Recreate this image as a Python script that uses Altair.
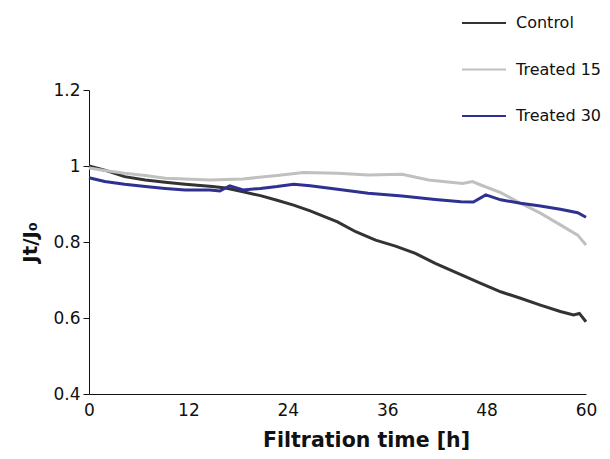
import altair as alt
import pandas as pd

series_names = ["Control", "Treated 15", "Treated 30"]
series_colors = ["#333333", "#c0c0c0", "#2e3192"]

control_t = [0, 1.9, 4.3, 6.8, 9.2, 11.6, 14.9, 16.5, 18.6, 20.7, 22.7, 24.7, 26.7, 30,
             32.2, 34.6, 37, 39.4, 41.8, 45.1, 47.3, 49.7, 52.1, 54.5, 56.9, 58.5, 59.2, 60]
control_v = [1.0, 0.989, 0.972, 0.963, 0.957, 0.952, 0.946, 0.942, 0.932, 0.922, 0.910, 0.897,
             0.882, 0.853, 0.827, 0.805, 0.789, 0.770, 0.744, 0.712, 0.691, 0.669, 0.652, 0.634,
             0.617, 0.608, 0.612, 0.590]

t15_t = [0, 1.9, 4.3, 6.8, 9.2, 11.6, 14.6, 18.6, 22.7, 25.9, 30, 33.7, 37.8, 41, 45.1, 46.3,
         47.3, 49.7, 52.1, 54.5, 56.9, 59, 60]
t15_v = [0.995, 0.988, 0.981, 0.975, 0.968, 0.966, 0.963, 0.966, 0.975, 0.983, 0.981, 0.976,
         0.978, 0.963, 0.954, 0.959, 0.950, 0.930, 0.902, 0.876, 0.845, 0.818, 0.792]

t30_t = [0, 1.9, 4.3, 6.8, 9.2, 11.6, 14.6, 15.8, 17, 18.6, 20.7, 22.7, 24.7, 26.7, 30, 33.7,
         37.8, 41.8, 44.9, 46.4, 47.9, 49.7, 52.1, 54.5, 56.9, 59, 60]
t30_v = [0.969, 0.959, 0.952, 0.946, 0.941, 0.937, 0.937, 0.934, 0.948, 0.937, 0.941, 0.946,
         0.952, 0.948, 0.939, 0.928, 0.921, 0.912, 0.906, 0.905, 0.924, 0.911, 0.902, 0.895,
         0.886, 0.877, 0.865]

x_ticks = [0, 12, 24, 36, 48, 60]
y_ticks = [0.4, 0.6, 0.8, 1.0, 1.2]

rows = []
for name, ts, vs in [("Control", control_t, control_v),
                     ("Treated 15", t15_t, t15_v),
                     ("Treated 30", t30_t, t30_v)]:
    for t, v in zip(ts, vs):
        rows.append({"series": name, "t": t, "v": v})
df = pd.DataFrame(rows)

font = "DejaVu Sans"

chart = alt.Chart(df).mark_line(strokeWidth=3, interpolate="linear").encode(
    x=alt.X("t:Q", scale=alt.Scale(domain=[0, 60], nice=False),
            axis=alt.Axis(values=x_ticks, title="Filtration time [h]", grid=False,
                          ticks=False, labelPadding=8, labelFontSize=17, labelFont=font,
                          labelColor="#111111", titleFont=font, titleFontSize=20.5,
                          titleFontWeight="bold", titlePadding=12, titleColor="#111111",
                          titleX=277, titleAlign="center",
                          domainColor="#111111", labelFlush=False)),
    y=alt.Y("v:Q", scale=alt.Scale(domain=[0.4, 1.2], nice=False, zero=False),
            axis=alt.Axis(values=y_ticks, title="Jt/J₀", grid=False, tickSize=6,
                          labelPadding=3, labelFontSize=17, labelFont=font,
                          labelColor="#111111", titleFont=font, titleFontSize=20,
                          titleFontWeight="bold", titlePadding=12, titleColor="#111111",
                          domainColor="#111111", tickColor="#111111",
                          labelExpr="datum.value == 1 ? '1' : format(datum.value, '.1f')")),
    color=alt.Color("series:N",
                    scale=alt.Scale(domain=series_names, range=series_colors),
                    legend=alt.Legend(title=None, orient="none", legendX=372, legendY=-90,
                                      symbolType="stroke", symbolSize=1936,
                                      symbolStrokeWidth=2, labelFont=font, labelFontSize=16,
                                      labelColor="#111111", labelOffset=9, rowPadding=15.5)),
    order=alt.Order("t:Q"),
).properties(
    width=497, height=304,
    autosize=alt.AutoSizeParams(type="none"),
    padding={"left": 81, "top": 82, "right": 16, "bottom": 57},
).configure_view(stroke=None)

chart.save("out.html", embed_options={"renderer": "svg", "actions": False})
